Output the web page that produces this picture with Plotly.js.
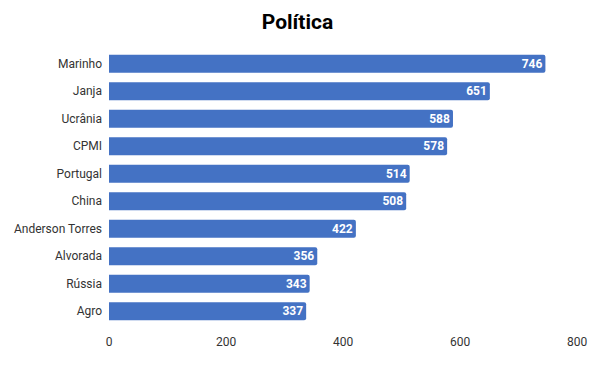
<!DOCTYPE html>
<html>
<head>
<meta charset="utf-8">
<script src="https://cdn.plot.ly/plotly-3.0.1.min.js"></script>
<style>html,body{margin:0;padding:0;background:#fff;}#chart{width:595px;height:366px;}</style>
</head>
<body>
<div id="chart"></div>
<script>
const categories = ["Marinho", "Janja", "Ucrânia", "CPMI", "Portugal", "China", "Anderson Torres", "Alvorada", "Rússia", "Agro"];
const values = [746, 651, 588, 578, 514, 508, 422, 356, 343, 337];
const xTicks = [0, 200, 400, 600, 800];

const trace = {
  type: "bar",
  orientation: "h",
  y: categories,
  x: values,
  text: values.map(String),
  textposition: "inside",
  insidetextanchor: "end",
  constraintext: "none",
  textfont: {family: "Roboto, Arial, sans-serif", size: 12, color: "#ffffff", weight: "bold"},
  marker: {color: "#4472C4", cornerradius: 2},
  hoverinfo: "none",
  cliponaxis: false
};

const layout = {
  width: 595,
  height: 366,
  margin: {l: 109, r: 18, t: 50, b: 41},
  paper_bgcolor: "#ffffff",
  plot_bgcolor: "#ffffff",
  title: {
    text: "<b>Política</b>",
    font: {family: "Roboto, Arial, sans-serif", size: 21, color: "#000000"},
    x: 0.5, xanchor: "center", y: 0.94, yanchor: "middle"
  },
  bargap: 0.34,
  xaxis: {
    range: [0, 800],
    tickvals: xTicks,
    ticktext: xTicks.map(String),
    showgrid: false,
    zeroline: false,
    showline: false,
    ticks: "",
    ticklabelstandoff: 8,
    tickfont: {family: "Roboto, Arial, sans-serif", size: 12, color: "#333333"}
  },
  yaxis: {
    type: "category",
    categoryorder: "array",
    categoryarray: categories.slice().reverse(),
    showgrid: false,
    zeroline: false,
    showline: false,
    ticks: "",
    ticklabelstandoff: 6,
    tickfont: {family: "Roboto, Arial, sans-serif", size: 12, color: "#333333"}
  },
  showlegend: false
};

Plotly.newPlot("chart", [trace], layout, {displayModeBar: false, staticPlot: true});
</script>
</body>
</html>
